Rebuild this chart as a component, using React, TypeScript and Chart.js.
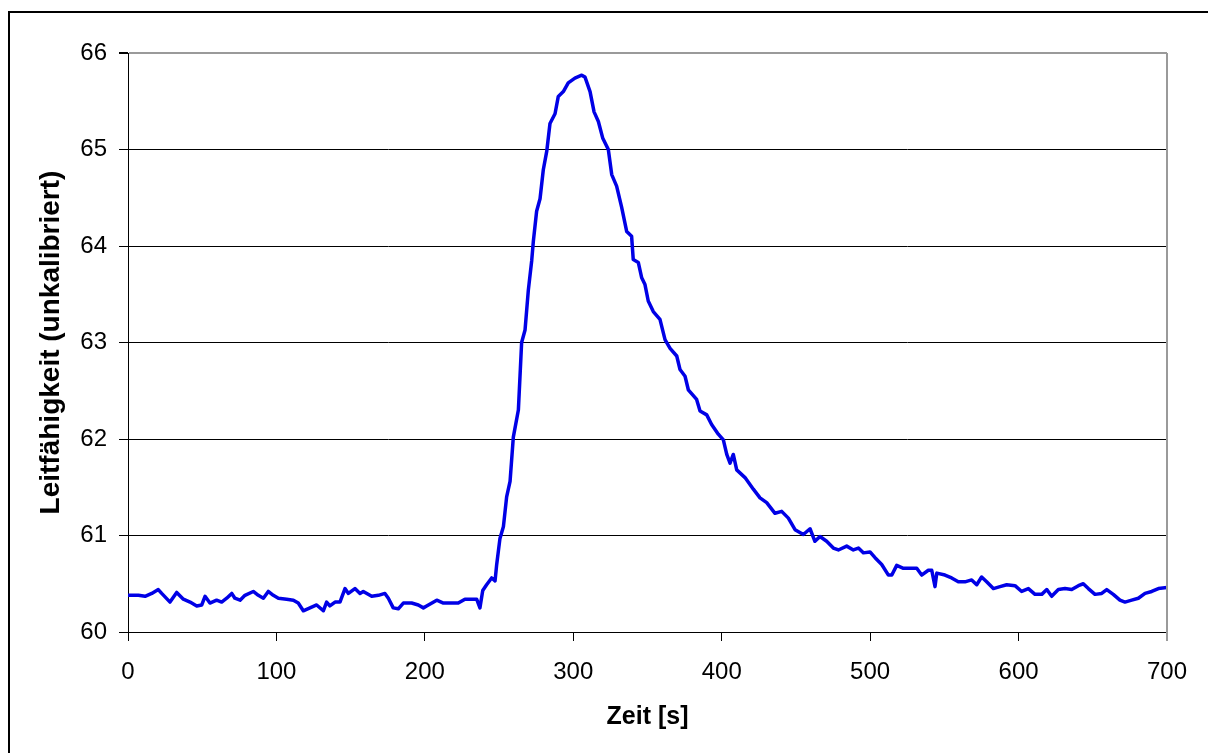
import { useEffect, useRef } from "react";
import { Chart, registerables } from "chart.js";

Chart.register(...registerables);

const timeSeconds = [
  0, 7, 11.5, 16, 20.4, 22.7, 28.3, 32.8, 37.3, 41.8, 46.3, 49.7, 51.9, 55.2, 59.7, 63.1, 66.5, 69.9, 72, 75.5,
  78.8, 84.4, 87.8, 91.2, 94.5, 97.9, 101.3, 106.9, 111.4, 114.7, 118.1, 122.6, 127.1, 131.6, 133.8, 136, 139.5,
  142.8, 146.2, 148.5, 152.9, 156.3, 158.5, 164.2, 168.7, 173.1, 175.4, 178.7, 182.1, 185.5, 191.1, 195.6, 199,
  201.2, 208, 212.5, 218, 222.5, 227, 231, 234.9, 237.1, 239, 241.6, 245, 247.3, 248.4, 250.6, 252.9, 255.1,
  257.4, 259.6, 263, 265.2, 267.5, 269.7, 272, 273.1, 275.3, 277.6, 279.8, 282.1, 284.3, 287.7, 289.9, 293.3,
  296.6, 301.1, 305.7, 307.9, 311.3, 314, 316.9, 319.8, 323.6, 325.9, 329.2, 332.6, 336, 339.3, 340.4, 343.8,
  346.1, 348.3, 350.5, 353.9, 358.4, 361.8, 365.2, 369.7, 371.9, 375.3, 377.5, 383.1, 385.4, 389.9, 393.2,
  397.7, 401.1, 403.4, 405.6, 407.8, 410.1, 415.7, 421.3, 425.8, 430.3, 435.9, 440.4, 444.9, 449.4, 455,
  459.5, 462.8, 466.2, 470.7, 475.2, 478.6, 484.2, 488.7, 492.1, 495.4, 499.9, 503.3, 507.8, 512.3, 514.6,
  517.9, 522.4, 526.9, 531.4, 534.7, 539.2, 541.5, 543.7, 544.9, 550.4, 554.9, 559.4, 563.9, 568.4, 571.8,
  575.1, 578.5, 583, 587.5, 592, 597.6, 602.1, 606.6, 611.1, 615.6, 619, 622.3, 626.8, 631.3, 635.8, 640.3,
  643.6, 647, 651.5, 656, 659.4, 663.8, 668.3, 671.7, 676.2, 680.7, 685.2, 689.7, 694.2, 700,
];

const conductivity = [
  60.38, 60.38, 60.37, 60.4, 60.44, 60.4, 60.31, 60.41, 60.34, 60.31, 60.27, 60.28, 60.37, 60.3, 60.33, 60.31,
  60.35, 60.4, 60.35, 60.33, 60.38, 60.42, 60.38, 60.35, 60.42, 60.38, 60.35, 60.34, 60.33, 60.3, 60.22, 60.25,
  60.28, 60.22, 60.31, 60.27, 60.31, 60.31, 60.45, 60.4, 60.45, 60.4, 60.42, 60.37, 60.38, 60.4, 60.35, 60.25,
  60.24, 60.3, 60.3, 60.28, 60.25, 60.27, 60.33, 60.3, 60.3, 60.3, 60.34, 60.34, 60.34, 60.25, 60.43, 60.49,
  60.56, 60.53, 60.7, 60.97, 61.09, 61.4, 61.56, 62.02, 62.3, 63.0, 63.13, 63.54, 63.85, 64.05, 64.36, 64.49,
  64.79, 64.98, 65.27, 65.37, 65.55, 65.6, 65.69, 65.74, 65.77, 65.75, 65.6, 65.39, 65.29, 65.12, 65.0, 64.74,
  64.62, 64.4, 64.15, 64.1, 63.86, 63.83, 63.67, 63.6, 63.43, 63.32, 63.24, 63.03, 62.94, 62.86, 62.72, 62.65,
  62.51, 62.41, 62.29, 62.25, 62.15, 62.05, 61.99, 61.84, 61.75, 61.84, 61.68, 61.6, 61.48, 61.39, 61.34,
  61.23, 61.25, 61.18, 61.06, 61.01, 61.07, 60.94, 60.99, 60.94, 60.87, 60.85, 60.89, 60.85, 60.87, 60.82,
  60.83, 60.77, 60.7, 60.59, 60.59, 60.69, 60.66, 60.66, 60.66, 60.59, 60.64, 60.64, 60.47, 60.61, 60.59,
  60.56, 60.52, 60.52, 60.54, 60.49, 60.57, 60.52, 60.45, 60.47, 60.49, 60.48, 60.42, 60.45, 60.39, 60.39,
  60.44, 60.37, 60.44, 60.45, 60.44, 60.48, 60.5, 60.45, 60.39, 60.4, 60.44, 60.39, 60.33, 60.31, 60.33,
  60.35, 60.4, 60.42, 60.45, 60.46,
];

const xTitle = "Zeit [s]";
const yTitle = "Leitfähigkeit (unkalibriert)";
const xMin = 0;
const xMax = 700;
const xStep = 100;
const yMin = 60;
const yMax = 66;
const yStep = 1;

const FONT = "'Liberation Sans', Arial, sans-serif";

const framePlugin = {
  id: "frame",
  afterDraw(chart: any) {
    const { ctx, chartArea } = chart;
    ctx.save();
    // outer frame (left and top edges)
    ctx.fillStyle = "#000";
    ctx.fillRect(8, 11, 1200, 2);
    ctx.fillRect(8, 11, 2, 742);
    // plot area right border (grey)
    ctx.strokeStyle = "#9a9a9a";
    ctx.lineWidth = 2;
    ctx.beginPath();
    ctx.moveTo(chartArea.right, chartArea.top);
    ctx.lineTo(chartArea.right, chartArea.bottom + 9);
    ctx.stroke();
    ctx.restore();
  },
};

export default function App() {
  const canvasRef = useRef<HTMLCanvasElement | null>(null);

  useEffect(() => {
    if (!canvasRef.current) return;
    const points = timeSeconds.map((t, i) => ({ x: t, y: conductivity[i] }));
    const chart = new Chart(canvasRef.current, {
      type: "line",
      data: {
        datasets: [
          {
            data: points,
            borderColor: "#0000e6",
            borderWidth: 3.5,
            pointRadius: 0,
            tension: 0,
            fill: false,
            borderJoinStyle: "round",
          },
        ],
      },
      plugins: [framePlugin],
      options: {
        responsive: false,
        animation: false,
        devicePixelRatio: 1,
        layout: { padding: { top: 53, right: 41, left: 0, bottom: 0 } },
        plugins: {
          legend: { display: false },
          tooltip: { enabled: false },
          title: { display: false },
        },
        scales: {
          x: {
            type: "linear",
            min: xMin,
            max: xMax,
            ticks: {
              stepSize: xStep,
              color: "#000",
              padding: 19,
              font: { family: FONT, size: 24, lineHeight: 1 },
            },
            grid: {
              drawOnChartArea: false,
              drawTicks: true,
              tickLength: 9,
              color: "#000",
              tickColor: "#000",
            },
            border: { display: true, color: "#000", width: 1 },
            title: {
              display: true,
              text: xTitle,
              color: "#000",
              font: { family: FONT, size: 25, weight: "bold", lineHeight: 1 },
              padding: { top: 0, bottom: 23 },
            },
            afterFit: (scale: any) => {
              scale.height = 121;
            },
          },
          y: {
            type: "linear",
            min: yMin,
            max: yMax,
            ticks: {
              stepSize: yStep,
              color: "#000",
              padding: 12,
              font: { family: FONT, size: 24, lineHeight: 1 },
            },
            grid: {
              drawTicks: true,
              tickLength: 9,
              color: (c: any) => (c.tick && c.tick.value === yMax ? "#9a9a9a" : "#000"),
              lineWidth: (c: any) => (c.tick && c.tick.value === yMax ? 2 : 1),
              tickColor: "#000",
            },
            border: { display: true, color: "#000", width: 1 },
            title: {
              display: true,
              text: yTitle,
              color: "#000",
              font: { family: FONT, size: 28, weight: "bold", lineHeight: 1 },
              padding: { top: 37, bottom: 0 },
            },
            afterFit: (scale: any) => {
              scale.width = 128;
            },
          },
        },
      },
    });
    return () => chart.destroy();
  }, []);

  return (
    <canvas
      ref={canvasRef}
      width={1208}
      height={753}
      style={{ position: "fixed", left: 0, top: 0, width: 1208, height: 753, background: "#fff" }}
    />
  );
}
